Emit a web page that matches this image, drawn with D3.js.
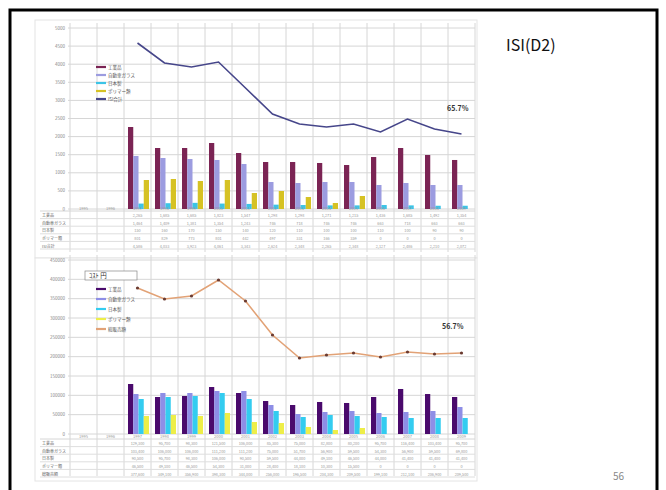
<html>
<head>
  <meta charset="utf-8">
  <title>ISI(D2)</title>
  <script src="https://d3js.org/d3.v7.min.js"></script>
  <style>
    body { margin: 0; background: #fff; }
    text { font-family: "Noto Sans CJK JP", "DejaVu Sans", sans-serif; }
  </style>
</head>
<body>
  <script>

	// categories (15 columns, the first two have no data)
	var years = ['1995','1996','1997','1998','1999','2000','2001','2002','2003','2004','2005','2006','2007','2008','2009'];

	// upper chart: quantities
	var topNames = ['工業品', '自動車ガラス', '日本製', 'ポリマー類', 'ISI合計'];
	var topA = [null, null, 2265, 1685, 1685, 1823, 1547, 1298, 1298, 1271, 1215, 1436, 1685, 1492, 1354];
	var topB = [null, null, 1464, 1409, 1381, 1354, 1243, 746, 718, 746, 746, 663, 718, 663, 663];
	var topC = [null, null, 150, 160, 170, 150, 140, 120, 110, 100, 100, 110, 100, 90, 90];
	var topD = [null, null, 801, 829, 773, 801, 442, 497, 331, 166, 359, 0, 0, 0, 0];
	var topTotal = [null, null, 4586, 4033, 3923, 4061, 3343, 2624, 2348, 2265, 2348, 2127, 2486, 2210, 2072];
	var topTicks = [0, 500, 1000, 1500, 2000, 2500, 3000, 3500, 4000, 4500, 5000];

	// lower chart: amounts (yen)
	var botNames = ['工業品', '自動車ガラス', '日本製', 'ポリマー類', '総販売額'];
	var botA = [null, null, 129300, 95700, 98300, 121500, 106000, 85300, 75000, 82800, 80200, 95700, 116400, 103400, 95700];
	var botB = [null, null, 103400, 106000, 106000, 111200, 111200, 75000, 51700, 56900, 59500, 54300, 56900, 59500, 69800];
	var botC = [null, null, 90500, 95700, 98300, 106000, 90500, 59500, 44000, 49100, 46500, 44000, 41400, 41400, 41400];
	var botD = [null, null, 46500, 49100, 46500, 54300, 31000, 28400, 18100, 10300, 15500, 0, 0, 0, 0];
	var botTotal = [null, null, 377600, 349100, 356900, 398300, 344000, 256000, 196500, 204300, 209500, 199100, 212100, 206900, 209500];
	var botTicks = [0, 50000, 100000, 150000, 200000, 250000, 300000, 350000, 400000, 450000];

	var svg = d3.select('body')
	            .append('svg')
	              .attr('width', 666)
	              .attr('height', 490);

	// slide frame
	svg.append('rect')
	  .attr('x', 10).attr('y', 10)
	  .attr('width', 647).attr('height', 500)
	  .attr('fill', '#fff')
	  .attr('stroke', '#000')
	  .attr('stroke-width', 3);

	svg.append('text')
	  .attr('x', 506).attr('y', 51)
	  .attr('font-family', 'DejaVu Sans')
	  .attr('font-size', 16)
	  .attr('fill', '#111')
	  .text('ISI(D2)');

	svg.append('text')
	  .attr('x', 613).attr('y', 480)
	  .attr('font-family', 'DejaVu Sans')
	  .attr('font-size', 10)
	  .attr('fill', '#888')
	  .text('56');

	var x = d3.scaleBand().domain(years).range([70, 475]).padding(0);

	// pair each value with its category so empty ones can be dropped
	function points(arr) {
	  return arr.map(function(v, i){ return { year: years[i], v: v }; })
	            .filter(function(d){ return d.v != null; });
	}

	function drawChart(cfg) {
	  var g = svg.append('g');
	  var y = d3.scaleLinear().domain([0, cfg.ticks[cfg.ticks.length - 1]]).range([cfg.bottom, cfg.top]);

	  // chart picture border
	  g.append('rect')
	    .attr('x', 35).attr('y', cfg.boxTop)
	    .attr('width', 442).attr('height', cfg.boxBottom - cfg.boxTop)
	    .attr('fill', '#fff')
	    .attr('stroke', '#e4e4e4');

	  // grid
	  g.selectAll('.hg').data(cfg.ticks).enter()
	    .append('line')
	    .attr('x1', 68).attr('x2', 475)
	    .attr('y1', function(d){ return y(d); })
	    .attr('y2', function(d){ return y(d); })
	    .attr('stroke', '#d6d6d6');
	  g.selectAll('.vg').data(d3.range(years.length + 1)).enter()
	    .append('line')
	    .attr('x1', function(i){ return 70 + i * x.bandwidth(); })
	    .attr('x2', function(i){ return 70 + i * x.bandwidth(); })
	    .attr('y1', cfg.top - 5).attr('y2', cfg.tableBottom)
	    .attr('stroke', '#d6d6d6');

	  // y labels
	  g.selectAll('.yl').data(cfg.ticks).enter()
	    .append('text')
	    .attr('x', 65)
	    .attr('y', function(d){ return y(d) + 1.5; })
	    .attr('text-anchor', 'end')
	    .attr('font-size', 4.5)
	    .attr('fill', '#888')
	    .text(function(d){ return d; });

	  // bars
	  var x1 = d3.scaleBand().domain(d3.range(4)).range([4, 25]).padding(0);
	  cfg.bars.forEach(function(arr, k){
	    g.selectAll('.b' + k).data(points(arr)).enter()
	      .append('rect')
	      .attr('x', function(d){ return x(d.year) + x1(k); })
	      .attr('width', x1.bandwidth())
	      .attr('y', function(d){ return y(d.v); })
	      .attr('height', function(d){ return y(0) - y(d.v); })
	      .attr('fill', cfg.colors[k]);
	  });

	  // total line
	  var line = d3.line()
	    .x(function(d){ return x(d.year) + x.bandwidth() / 2; })
	    .y(function(d){ return y(d.v); });
	  g.append('path')
	    .datum(points(cfg.total))
	    .attr('d', line)
	    .attr('fill', 'none')
	    .attr('stroke', cfg.colors[4])
	    .attr('stroke-width', cfg.lineWidth);
	  if (cfg.markers) {
	    g.selectAll('.mk').data(points(cfg.total)).enter()
	      .append('circle')
	      .attr('cx', function(d){ return x(d.year) + x.bandwidth() / 2; })
	      .attr('cy', function(d){ return y(d.v); })
	      .attr('r', 1.6)
	      .attr('fill', '#6a3a30');
	  }

	  g.append('text')
	    .attr('x', cfg.pctX).attr('y', cfg.pctY)
	    .attr('font-family', 'DejaVu Sans')
	    .attr('font-size', 7)
	    .attr('font-weight', 'bold')
	    .attr('fill', '#333')
	    .text(cfg.pct);

	  // legend
	  var lg = g.append('g');
	  if (cfg.legendTitle) {
	    lg.append('rect')
	      .attr('x', 85).attr('y', cfg.legendY - 18)
	      .attr('width', 52).attr('height', 9)
	      .attr('fill', '#fff').attr('stroke', '#888').attr('stroke-width', 0.7);
	    lg.append('text')
	      .attr('x', 89).attr('y', cfg.legendY - 11)
	      .attr('font-size', 6.5).attr('fill', '#333')
	      .text(cfg.legendTitle);
	  }
	  cfg.names.forEach(function(n, k){
	    var ly = cfg.legendY + k * cfg.legendStep;
	    lg.append('line')
	      .attr('x1', 96).attr('x2', 106)
	      .attr('y1', ly).attr('y2', ly)
	      .attr('stroke', cfg.colors[k])
	      .attr('stroke-width', 2.2);
	    lg.append('text')
	      .attr('x', 108).attr('y', ly + 1.6)
	      .attr('font-size', 4.5).attr('fill', '#555')
	      .text(n);
	  });

	  // data table
	  var rows = cfg.bars.concat([cfg.total]);
	  var ty = cfg.tableTop;
	  g.append('line').attr('x1', 40).attr('x2', 475).attr('y1', ty + 3).attr('y2', ty + 3).attr('stroke', '#d6d6d6');
	  g.selectAll('.hd').data(years).enter()
	    .append('text')
	    .attr('x', function(d){ return x(d) + x.bandwidth() / 2; })
	    .attr('y', ty + 1.5)
	    .attr('text-anchor', 'middle')
	    .attr('font-size', 4).attr('fill', '#999')
	    .text(function(d){ return d; });
	  rows.forEach(function(arr, r){
	    var ry = ty + 3 + (r + 1) * cfg.rowStep;
	    g.append('line').attr('x1', 40).attr('x2', 475).attr('y1', ry).attr('y2', ry).attr('stroke', '#dedede');
	    g.append('text')
	      .attr('x', 42).attr('y', ry - 1.5)
	      .attr('font-size', 4).attr('fill', '#666')
	      .text(cfg.names[r]);
	    g.selectAll('.c' + r).data(points(arr)).enter()
	      .append('text')
	      .attr('x', function(d){ return x(d.year) + x.bandwidth() / 2; })
	      .attr('y', ry - 1.5)
	      .attr('text-anchor', 'middle')
	      .attr('font-size', 3.8).attr('fill', '#999')
	      .text(function(d){ return d3.format(',')(d.v); });
	  });
	}

	drawChart({
	  boxTop: 20, boxBottom: 258, top: 28, bottom: 209,
	  tableTop: 208, rowStep: 7.6, tableBottom: 252,
	  ticks: topTicks, bars: [topA, topB, topC, topD], total: topTotal,
	  names: topNames,
	  colors: ['#7b2454', '#9c9ce0', '#3cc4e6', '#d6c224', '#46468a'],
	  lineWidth: 1.6, markers: false,
	  pct: '65.7%', pctX: 447, pctY: 111,
	  legendY: 67, legendStep: 8
	});

	drawChart({
	  boxTop: 258, boxBottom: 481, top: 260, bottom: 434,
	  tableTop: 436, rowStep: 7.6, tableBottom: 476,
	  ticks: botTicks, bars: [botA, botB, botC, botD], total: botTotal,
	  names: botNames,
	  colors: ['#4a0a6c', '#8e8ee6', '#33ccf0', '#eeee48', '#e2a276'],
	  lineWidth: 1.6, markers: true,
	  pct: '56.7%', pctX: 442, pctY: 329,
	  legendY: 289, legendStep: 10, legendTitle: 'ｺｽﾄ 円'
	});

  </script>
</body>
</html>
